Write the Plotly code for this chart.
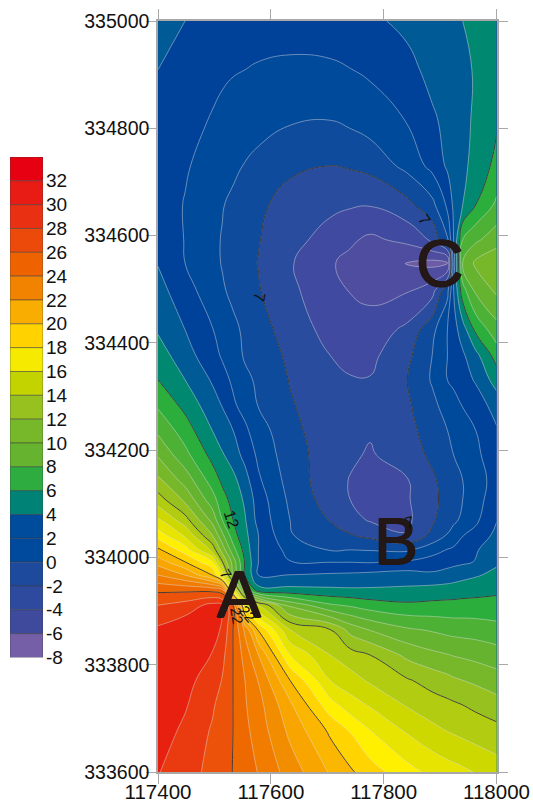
import plotly.graph_objects as go

# grid positions (map coordinates)
x_grid = [117400,117448,117496,117514,117533,117554,117578,117634,117705,117741,117776,117842,117886,117913,117924,117940,117963,118000]
y_grid = [333600,333678,333725,333771,333818,333865,333911,333939,333967,333991,334014,334042,334070,334107,334144,
          334191,334237,334284,334331,334377,334424,334498,334549,334592,334657,334730,334815,334909,335000]

# values, bottom row first
z_rows = [
 [29.05,28.45,27.7,27.35,26.97,26.5,25.95,24.55,22.9,22.15,21.45,20.35,19.75,19.45,19.35,19.2,18.95,18.5],
 [29.5,28.8,27.9,27.45,27.0,26.25,25.55,23.75,21.8,20.9,20.0,18.85,18.25,17.95,17.85,17.7,17.5,17.3],
 [29.6,29.1,28.15,27.6,27.0,26.1,25.35,23.2,20.4,19.45,18.9,17.9,17.45,17.25,17.15,17.0,16.8,16.4],
 [29.6,29.4,28.4,27.95,27.0,26.0,24.95,22.0,19.0,18.4,17.85,17.1,16.6,16.3,16.15,16.0,15.8,15.45],
 [29.5,29.7,28.95,28.3,27.0,25.6,24.0,20.0,18.0,17.45,17.0,15.75,15.25,15.05,14.95,14.85,14.7,14.45],
 [29.2,29.8,29.45,28.85,27.0,24.8,21.9,18.0,17.05,15.65,14.95,14.15,13.9,13.7,13.65,13.6,13.55,13.35],
 [28.0,28.4,29.3,29.1,27.0,20.3,18.0,14.75,13.15,12.85,12.5,12.2,12.25,12.3,12.3,12.35,12.35,12.36],
 [26.8,26.8,26.7,26.3,20.0,14.0,11.4,11.3,11.2,11.15,11.15,11.2,11.4,11.45,11.5,11.55,11.65,11.8],
 [25.0,24.0,22.0,19.6,15.0,12.0,10.0,10.03,10.15,10.2,10.3,10.45,10.2,10.4,10.5,10.7,10.9,11.25],
 [23.6,22.05,20.2,17.1,14.6,11.9,10.0,9.05,9.0,9.0,8.95,9.15,9.45,9.65,9.75,9.85,10.05,10.85],
 [22.2,20.5,17.7,15.6,13.4,11.6,10.0,8.65,7.95,8.0,7.95,7.85,8.6,9.05,9.2,9.5,9.9,10.6],
 [20.5,18.8,16.0,14.2,12.4,11.3,10.0,8.05,7.5,7.05,6.7,6.05,7.25,8.05,8.3,8.95,9.3,10.25],
 [19.15,17.4,14.7,13.0,12.0,11.1,9.65,8.0,6.95,6.35,5.9,5.8,6.85,7.6,7.85,8.15,8.8,9.95],
 [17.5,15.8,13.45,12.4,11.65,10.85,9.5,7.8,6.55,6.0,5.8,5.9,6.75,7.35,7.6,8.0,8.6,9.6],
 [16.2,14.6,12.55,11.8,11.3,10.4,9.15,7.6,6.4,5.95,5.8,5.95,6.85,7.4,7.6,8.0,8.6,9.35],
 [14.9,13.3,11.7,11.1,10.5,9.7,8.8,7.4,6.55,6.15,5.9,6.5,7.2,7.85,8.0,8.3,8.8,9.55],
 [13.8,12.5,11.0,10.5,10.0,9.2,8.45,7.25,6.5,6.2,6.1,6.7,7.45,8.0,8.2,8.55,9.0,9.9],
 [12.85,11.7,10.4,9.95,9.15,8.65,7.95,7.1,6.35,6.15,6.1,6.85,7.75,8.4,8.6,9.05,9.5,10.4],
 [12.0,11.0,9.9,9.3,8.85,8.2,7.85,6.95,6.25,6.05,6.05,7.0,8.1,9.0,9.25,9.6,10.1,11.45],
 [11.45,10.45,9.3,8.9,8.4,7.9,7.6,6.8,6.0,5.8,5.75,6.75,8.0,9.0,9.5,9.85,10.7,12.45],
 [10.9,10.0,9.05,8.65,8.2,7.85,7.45,6.5,5.7,5.45,5.4,6.25,7.7,9.0,9.6,10.5,12.2,13.6],
 [10.35,9.4,8.45,8.1,7.8,7.5,7.07,6.2,5.4,4.95,4.75,4.9,5.6,7.7,10.0,12.6,14.2,15.2],
 [9.95,9.0,8.25,7.95,7.6,7.3,6.97,6.1,5.1,4.75,4.4,3.95,3.7,3.8,9.5,14.0,15.2,15.7],
 [9.55,8.97,8.2,7.95,7.65,7.35,7.05,6.3,5.65,5.15,4.8,5.25,6.2,7.85,10.0,13.0,13.8,14.6],
 [9.5,8.95,8.3,8.05,7.8,7.5,7.2,6.6,6.2,6.1,6.05,6.7,7.7,9.2,10.2,11.0,12.0,13.2],
 [9.55,9.1,8.6,8.4,8.2,7.95,7.7,7.2,7.0,7.1,7.3,8.3,9.3,10.15,10.35,10.8,11.3,12.3],
 [9.7,9.25,8.95,8.85,8.7,8.55,8.4,8.1,8.0,8.2,8.5,9.05,9.85,10.25,10.4,10.75,11.15,11.85],
 [10.0,9.5,9.2,9.1,9.05,9.0,8.9,8.8,8.85,8.98,9.15,9.7,10.3,10.5,10.6,10.75,11.1,11.7],
 [10.6,10.0,9.75,9.65,9.6,9.55,9.5,9.45,9.5,9.62,9.8,10.25,10.6,10.8,10.9,11.0,11.3,11.7],
]

band_colors = ["#6C5BA5","#6C5BA5","#4F4DA0","#3F4AA0","#2A4C9E","#0F4B9C","#004A9C","#00429A",
               "#005A96","#008970","#2BAE3C","#4DB135","#65B32E","#76B82A","#96C11F","#B2CC11",
               "#CCD800","#E6E400","#FFF000","#FFD400","#FBB600","#F8A500","#F38D00","#F17C00",
               "#EE6A00","#EC5209","#EA3A10","#E8200F","#E8200F","#E8200F"]

legend_base = [32,30,28,26,24,22,20,18,16,14,12,10,8,6,4,2,0,-2,-4,-6,-8]
legend_colors = ["#E60012","#E81C14","#E93013","#EB4A0A","#EE6300","#F18300","#F8AD00","#FFD200",
                 "#F5EA00","#C2D300","#96C11F","#76B82A","#65B32E","#2FAC3F","#008376","#004C9C",
                 "#004A9E","#1D4A9C","#2E4A9E","#3F4A9C","#7560A8"]
legend_ticks = [-8,-6,-4,-2,0,2,4,6,8,10,12,14,16,18,20,22,24,26,28,30,32]

x_ticks = [117400,117600,117800,118000]
y_ticks = [333600,333800,334000,334200,334400,334600,334800,335000]

n = len(band_colors) - 1
colorscale = [[i / n, c] for i, c in enumerate(band_colors)]

W, H = 533, 803
FONT = "Liberation Sans, Arial, sans-serif"
TICK = "#A8A8A8"

fig = go.Figure()
fig.add_trace(go.Contour(x=x_grid, y=y_grid, z=z_rows, colorscale=colorscale, showscale=False,
                         autocontour=False,
                         contours=dict(start=3, end=31, size=1, coloring="fill", showlines=True),
                         line=dict(color="rgba(225,225,225,0.65)", width=0.7, smoothing=1.3),
                         hoverinfo="skip"))
fig.add_trace(go.Contour(x=x_grid, y=y_grid, z=z_rows, showscale=False, autocontour=False,
                         colorscale=[[0, "#222"], [1, "#222"]],
                         contours=dict(start=7, end=27, size=5, coloring="lines"),
                         line=dict(width=0.8, smoothing=1.3), hoverinfo="skip"))
fig.add_trace(go.Bar(x=["k"] * len(legend_base), y=[2] * len(legend_base), base=legend_base,
                     marker=dict(color=legend_colors, line=dict(color="rgba(60,60,60,0.7)", width=0.7)),
                     width=1, xaxis="x2", yaxis="y2", hoverinfo="skip", showlegend=False))

axis_common = dict(showgrid=False, zeroline=False, showline=True, linecolor=TICK, linewidth=1.5,
                   ticks="outside", ticklen=10, tickwidth=1, tickcolor=TICK, mirror="ticks",
                   automargin=False)
fig.update_layout(
    width=W, height=H, autosize=False, margin=dict(l=0, r=0, t=0, b=0),
    paper_bgcolor="white", plot_bgcolor="white", showlegend=False,
    xaxis=dict(domain=[158 / W, 496.5 / W], range=[117400, 118000], tickmode="array",
               tickvals=x_ticks, ticktext=[str(v) for v in x_ticks], ticklabelstandoff=-9,
               tickfont=dict(family=FONT, size=20.5, color="#111"), **axis_common),
    yaxis=dict(domain=[(H - 772) / H, (H - 21) / H], range=[333600, 335000], tickmode="array",
               tickvals=y_ticks, ticktext=[str(v) for v in y_ticks], ticklabelstandoff=-7,
               tickfont=dict(family=FONT, size=19.5, color="#111"), **axis_common),
    xaxis2=dict(domain=[10 / W, 43 / W], anchor="y2", visible=False, type="category", automargin=False),
    yaxis2=dict(domain=[(H - 657.5) / H, (H - 157) / H], anchor="x2", side="right", range=[-8, 34],
                tickmode="array", tickvals=legend_ticks, ticktext=[str(v) for v in legend_ticks],
                showgrid=False, zeroline=False, showline=False, ticks="", automargin=False,
                ticklabelstandoff=2, tickfont=dict(family=FONT, size=19, color="#111")),
)

big = [("A", 117544, 333932), ("B", 117821, 334031), ("C", 117899, 334549)]
for t, x, y in big:
    fig.add_annotation(x=x, y=y, text=t, showarrow=False, xref="x", yref="y",
                       font=dict(family=FONT, size=66, color="#231815",
                                 shadow="0.8px 0 0 #231815, -0.8px 0 0 #231815, 0 0.6px 0 #231815"))

small = [("7", 117580, 334485, 100, 16), ("7", 117872, 334630, 55, 16), ("7", 117845, 334065, -15, 16),
         ("12", 117530, 334070, 72, 16), ("22", 117540, 333890, 80, 15), ("22", 117558, 333895, 50, 15),
         ("7", 117520, 333970, 60, 15)]
for t, x, y, a, s in small:
    fig.add_annotation(x=x, y=y, text=t, showarrow=False, xref="x", yref="y", textangle=a,
                       font=dict(family=FONT, size=s, color="#111"))

fig.write_html("out.html", post_script="document.body.style.margin='0';",
               config=dict(displayModeBar=False))
